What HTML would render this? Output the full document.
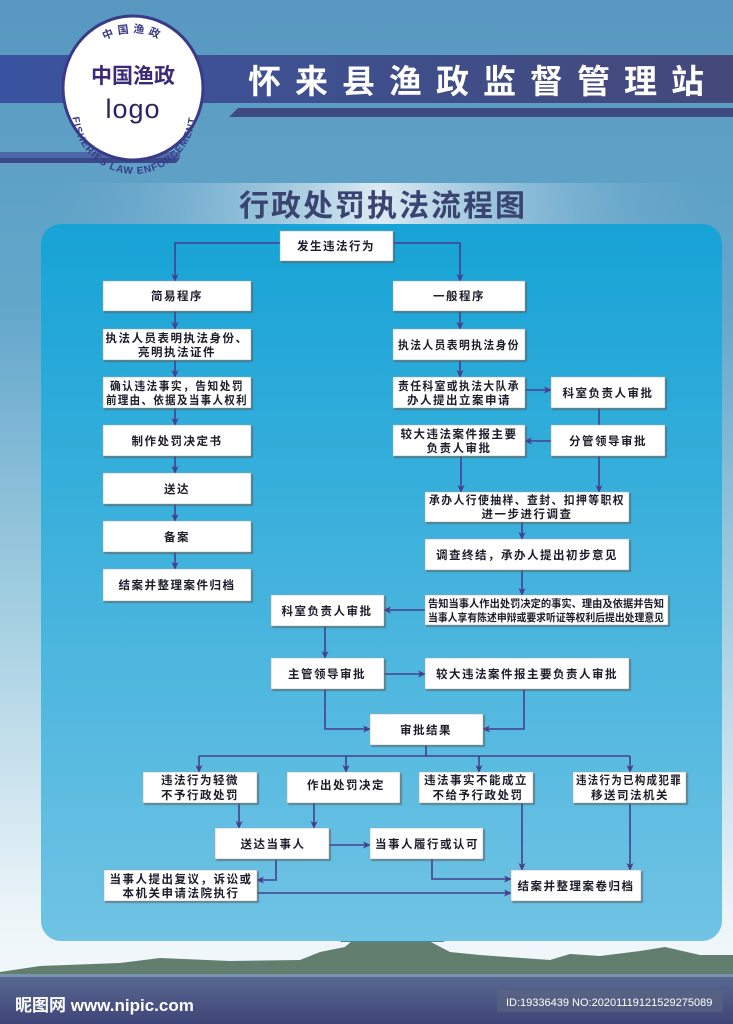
<!DOCTYPE html>
<html><head><meta charset="utf-8"><style>
html,body{margin:0;padding:0;width:733px;height:1024px;overflow:hidden}
svg{display:block}
.b{fill:#fff;stroke:#9aa;stroke-width:.5;filter:url(#sh)}
.t{font-family:"Liberation Sans","Noto Sans CJK SC",sans-serif;font-weight:bold;font-size:11.5px;fill:#1c1c2a;text-anchor:middle;letter-spacing:1.5px}
.l{stroke:#463f8e;stroke-width:1.6;fill:none}
.a{stroke:#463f8e;stroke-width:1.6;fill:none;marker-end:url(#ar)}
</style></head><body>
<svg width="733" height="1024" viewBox="0 0 733 1024" xmlns="http://www.w3.org/2000/svg">
<defs>
<linearGradient id="bg" x1="0" y1="0" x2="0" y2="1">
<stop offset="0" stop-color="#5898c0"/><stop offset=".3" stop-color="#63a7cb"/><stop offset=".6" stop-color="#a4cfe1"/><stop offset=".9" stop-color="#eef5f9"/><stop offset="1" stop-color="#f3f7fa"/></linearGradient>
<linearGradient id="pn" x1="0" y1="0" x2="0" y2="1">
<stop offset="0" stop-color="#16a3d6"/><stop offset="1" stop-color="#70c3e4"/></linearGradient>
<linearGradient id="bd" x1="0" y1="0" x2="1" y2="0">
<stop offset="0" stop-color="#3a53a0"/><stop offset=".5" stop-color="#3f4f8c"/><stop offset="1" stop-color="#44487a"/></linearGradient>
<linearGradient id="sb" x1="0" y1="0" x2="1" y2="0">
<stop offset="0" stop-color="#6aaacd" stop-opacity="0"/><stop offset=".5" stop-color="#f4f8fb"/><stop offset="1" stop-color="#6aaacd" stop-opacity="0"/></linearGradient>
<linearGradient id="sea" x1="0" y1="0" x2="0" y2="1">
<stop offset="0" stop-color="#5a6a92"/><stop offset="1" stop-color="#3f4578"/></linearGradient>
<filter id="sh" x="-5%" y="-5%" width="115%" height="130%"><feDropShadow dx="1.5" dy="1.5" stdDeviation="0.4" flood-color="#555" flood-opacity=".7"/></filter>
<marker id="ar" markerWidth="8" markerHeight="8" refX="7" refY="4" orient="auto" markerUnits="userSpaceOnUse"><path d="M0,0.5 L8,4 L0,7.5 L2,4Z" fill="#463f8e"/></marker>
<path id="arcB" d="M72,110 A62,64 0 0 0 196,110"/>
<path id="arcT" d="M78,70 A60,62 0 0 1 188,70"/>
</defs>
<rect width="733" height="1024" fill="url(#bg)"/>
<!-- header bands -->
<rect x="0" y="55" width="733" height="48" fill="url(#bd)"/>
<polygon points="238,108 733,108 733,117 229,117" fill="#404a82"/>
<rect x="0" y="152" width="180" height="6" fill="#4d6aa8"/>
<polygon points="0,158 180,158 176,163 0,163" fill="#3a4a88"/>
<ellipse cx="133" cy="88" rx="70" ry="72" fill="#fff" stroke="#3a3a88" stroke-width="3"/>
<text font-family="Liberation Sans,Noto Sans CJK SC,sans-serif" font-weight="bold" font-size="11" fill="#3a3a88" letter-spacing="4"><textPath href="#arcT" startOffset="50%" text-anchor="middle">中国渔政</textPath></text>
<text font-family="Liberation Sans,sans-serif" font-weight="bold" font-size="10" fill="#3a3a88" letter-spacing="1"><textPath href="#arcB" startOffset="50%" text-anchor="middle">FISHERIES LAW ENFORCEMENT</textPath></text>
<text x="133" y="83" font-family="Liberation Sans,Noto Sans CJK SC,sans-serif" font-weight="bold" font-size="21" fill="#3a2a7a" text-anchor="middle">中国渔政</text>
<text x="133" y="118" font-family="Liberation Sans,sans-serif" font-size="27" fill="#2e2266" text-anchor="middle" letter-spacing="1">logo</text>
<text x="483" y="93" font-family="Liberation Sans,Noto Sans CJK SC,sans-serif" font-weight="bold" font-size="33" fill="#fff" text-anchor="middle" letter-spacing="14">怀来县渔政监督管理站</text>
<!-- subtitle -->
<rect x="40" y="183" width="680" height="42" fill="url(#sb)" opacity=".85"/>
<text x="383" y="216" font-family="Liberation Sans,Noto Sans CJK SC,sans-serif" font-weight="bold" font-size="30" fill="#3b4470" text-anchor="middle" letter-spacing="2">行政处罚执法流程图</text>
<!-- bottom scenery -->
<path d="M0,1024 L0,972 L40,966 L120,963 L160,958 L230,961 L300,960 L320,952 L345,947 L360,934 L380,928 L400,935 L425,939 L450,952 L480,955 L550,960 L570,954 L600,956 L640,951 L665,947 L700,955 L733,955 L733,1024Z" fill="#627e6e"/>
<path d="M340,942 L350,930 L365,925 L385,920 L400,928 L420,930 L445,942 Z" fill="#3f8aa0"/>
<rect x="0" y="974" width="733" height="50" fill="url(#sea)"/>
<rect x="0" y="974" width="733" height="3" fill="#8fb0c0" opacity=".6"/>
<text x="15" y="1011" font-family="Liberation Sans,Noto Sans CJK SC,sans-serif" font-weight="bold" font-size="17" fill="#fff">昵图网 www.nipic.com</text>
<rect x="497" y="990" width="226" height="22" fill="#5b6680" opacity=".6"/>
<text x="506" y="1006" font-family="Liberation Sans,sans-serif" font-size="11" fill="#fff">ID:19336439 NO:20201119121529275089</text>
<!-- panel -->
<rect x="41" y="224" width="681" height="717" rx="20" fill="url(#pn)"/>
<!-- connectors -->
<path class="a" d="M280,243 H175 V281"/>
<path class="a" d="M393,243 H460 V281"/>
<path class="a" d="M175,311 V329"/><path class="a" d="M175,360 V377"/><path class="a" d="M175,408 V425"/>
<path class="a" d="M175,456 V473"/><path class="a" d="M175,504 V521"/><path class="a" d="M175,552 V569"/>
<path class="a" d="M460,311 V329"/><path class="a" d="M460,360 V377"/>
<path class="a" d="M525,390 H551"/>
<path class="l" d="M599,408 V425"/>
<path class="a" d="M551,441 H525"/>
<path class="a" d="M461,456 V492"/><path class="a" d="M599,456 V492"/>
<path class="a" d="M522,522 V539"/><path class="a" d="M522,570 V595"/>
<path class="a" d="M425,610 H384"/>
<path class="a" d="M325,626 V658"/>
<path class="a" d="M384,674 H425"/>
<path class="a" d="M325,689 V729 H370"/>
<path class="a" d="M524,689 V729 H483"/>
<path class="l" d="M426,745 V756"/>
<path class="l" d="M199,756 H630"/>
<path class="a" d="M199,756 V772"/><path class="a" d="M346,756 V772"/><path class="a" d="M479,756 V772"/><path class="a" d="M630,756 V772"/>
<path class="a" d="M239,803 V828"/><path class="a" d="M314,803 V828"/>
<path class="a" d="M329,845 H370"/>
<path class="a" d="M522,803 V870"/><path class="a" d="M630,803 V870"/>
<path class="a" d="M276,859 V880 H257"/>
<path class="a" d="M432,859 V879 H511"/>
<path class="a" d="M257,893 H511"/>
<!-- boxes -->
<g>
<rect class="b" x="280" y="231" width="113" height="30"/><text class="t" x="336" y="250">发生违法行为</text>
<rect class="b" x="103" y="281" width="148" height="30"/><text class="t" x="177" y="300">简易程序</text>
<rect class="b" x="103" y="329" width="148" height="31"/><text class="t" x="177" y="342">执法人员表明执法身份、</text><text class="t" x="177" y="356">亮明执法证件</text>
<rect class="b" x="103" y="377" width="148" height="31"/><text class="t" x="177" y="390" textLength="134" lengthAdjust="spacingAndGlyphs">确认违法事实，告知处罚</text><text class="t" x="177" y="404" textLength="142" lengthAdjust="spacingAndGlyphs">前理由、依据及当事人权利</text>
<rect class="b" x="103" y="425" width="148" height="31"/><text class="t" x="177" y="445">制作处罚决定书</text>
<rect class="b" x="103" y="473" width="148" height="31"/><text class="t" x="177" y="493">送达</text>
<rect class="b" x="103" y="521" width="148" height="31"/><text class="t" x="177" y="541">备案</text>
<rect class="b" x="103" y="569" width="148" height="32"/><text class="t" x="177" y="589">结案并整理案件归档</text>
<rect class="b" x="393" y="281" width="132" height="30"/><text class="t" x="459" y="300">一般程序</text>
<rect class="b" x="393" y="329" width="132" height="31"/><text class="t" x="459" y="349" textLength="122" lengthAdjust="spacingAndGlyphs">执法人员表明执法身份</text>
<rect class="b" x="393" y="377" width="132" height="31"/><text class="t" x="459" y="390" textLength="122" lengthAdjust="spacingAndGlyphs">责任科室或执法大队承</text><text class="t" x="459" y="404">办人提出立案申请</text>
<rect class="b" x="393" y="425" width="132" height="31"/><text class="t" x="459" y="438">较大违法案件报主要</text><text class="t" x="459" y="452">负责人审批</text>
<rect class="b" x="551" y="377" width="114" height="31"/><text class="t" x="608" y="397">科室负责人审批</text>
<rect class="b" x="551" y="425" width="114" height="31"/><text class="t" x="608" y="445">分管领导审批</text>
<rect class="b" x="425" y="492" width="204" height="30"/><text class="t" x="527" y="504" textLength="196" lengthAdjust="spacingAndGlyphs">承办人行使抽样、查封、扣押等职权</text><text class="t" x="527" y="518">进一步进行调查</text>
<rect class="b" x="425" y="539" width="204" height="31"/><text class="t" x="527" y="559">调查终结，承办人提出初步意见</text>
<rect class="b" x="425" y="595" width="243" height="30"/><text class="t" x="546" y="607" style="font-size:10.5px;letter-spacing:0" textLength="236" lengthAdjust="spacingAndGlyphs">告知当事人作出处罚决定的事实、理由及依据并告知</text><text class="t" x="546" y="621" style="font-size:10.5px;letter-spacing:0" textLength="236" lengthAdjust="spacingAndGlyphs">当事人享有陈述申辩或要求听证等权利后提出处理意见</text>
<rect class="b" x="271" y="595" width="113" height="31"/><text class="t" x="327" y="615">科室负责人审批</text>
<rect class="b" x="271" y="658" width="113" height="31"/><text class="t" x="327" y="678">主管领导审批</text>
<rect class="b" x="425" y="658" width="204" height="31"/><text class="t" x="527" y="678">较大违法案件报主要负责人审批</text>
<rect class="b" x="370" y="714" width="113" height="31"/><text class="t" x="426" y="734">审批结果</text>
<rect class="b" x="143" y="772" width="114" height="31"/><text class="t" x="200" y="784">违法行为轻微</text><text class="t" x="200" y="799">不予行政处罚</text>
<rect class="b" x="287" y="772" width="113" height="31"/><text class="t" x="346" y="789">作出处罚决定</text>
<rect class="b" x="419" y="772" width="114" height="31"/><text class="t" x="476" y="784" textLength="104" lengthAdjust="spacingAndGlyphs">违法事实不能成立</text><text class="t" x="478" y="799">不给予行政处罚</text>
<rect class="b" x="573" y="772" width="113" height="31"/><text class="t" x="629" y="784" textLength="106" lengthAdjust="spacingAndGlyphs">违法行为已构成犯罪</text><text class="t" x="630" y="799">移送司法机关</text>
<rect class="b" x="215" y="828" width="114" height="31"/><text class="t" x="273" y="848">送达当事人</text>
<rect class="b" x="370" y="828" width="113" height="31"/><text class="t" x="427" y="848">当事人履行或认可</text>
<rect class="b" x="104" y="870" width="153" height="31"/><text class="t" x="181" y="883">当事人提出复议，诉讼或</text><text class="t" x="181" y="897">本机关申请法院执行</text>
<rect class="b" x="511" y="870" width="130" height="31"/><text class="t" x="576" y="890">结案并整理案卷归档</text>
</g>
</svg>
</body></html>
